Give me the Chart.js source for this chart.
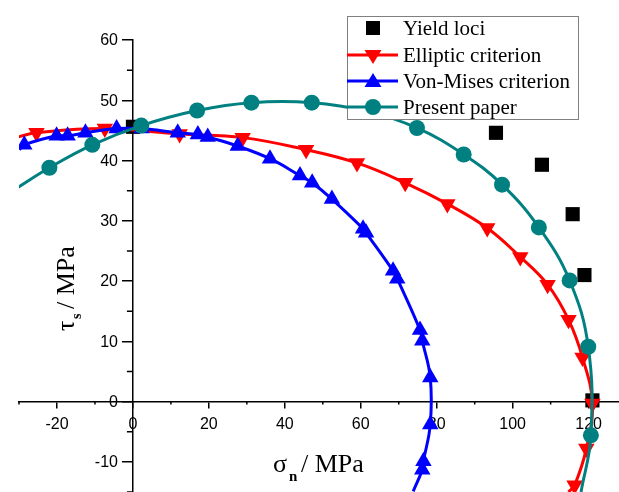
<!DOCTYPE html>
<html>
<head>
<meta charset="utf-8">
<script src="https://cdn.jsdelivr.net/npm/chart.js@4/dist/chart.umd.min.js"></script>
<style>
    html, body { margin: 0; padding: 0; background: #fff; }
    #wrap { width: 619px; height: 492px; position: relative; }
</style>
</head>
<body>
<div id="wrap"><canvas id="chart"></canvas></div>
<script>
// Yield loci (measured points)
const yieldX = [0, 95.6, 107.7, 115.8, 118.9, 121.0];
const yieldY = [45.6, 44.6, 39.3, 31.1, 21.0, 0.2];

// Elliptic criterion (first and last entries are where the curve leaves the frame)
const ellipticX = [-30.4, -25.4, -7.4, 12.3, 28.9, 45.6, 59.0, 71.7, 82.8, 93.3, 102.0, 109.2, 114.7, 118.4, 121.0, 119.4, 116.3, 114.7];
const ellipticY = [43.9, 44.6, 45.3, 44.4, 43.8, 41.8, 39.6, 36.3, 32.8, 28.8, 24.0, 19.4, 13.6, 7.3, -0.3, -7.8, -13.9, -15.0];

// Von-Mises criterion
const vonMisesX = [-29.9, -28.6, -20.1, -17.2, -12.5, -4.3, 2.3, 11.8, 17.1, 19.7, 27.6, 36.1, 44.0, 47.2, 52.4, 60.6, 61.4, 68.5, 69.6, 75.6, 76.2, 78.3, 78.3, 76.5, 76.2, 73.8];
const vonMisesY = [41.8, 42.6, 44.1, 44.1, 44.6, 45.3, 45.3, 44.6, 44.3, 43.9, 42.4, 40.3, 37.5, 36.3, 33.6, 28.7, 28.0, 21.7, 20.4, 11.9, 10.1, 4.0, -3.8, -9.9, -11.3, -14.9];

// Present paper
const presentX = [-30.4, -22.0, -10.7, 2.2, 16.9, 31.2, 47.1, 61.6, 74.8, 87.1, 97.2, 106.9, 115.0, 119.9, 120.6, 118.0];
const presentY = [35.5, 38.8, 42.6, 45.8, 48.3, 49.6, 49.6, 48.2, 45.4, 41.0, 36.0, 28.9, 20.1, 9.1, -5.6, -15.0];

// Axis ticks
const xTicks = [-20, 0, 20, 40, 60, 80, 100, 120];
const xMinor = [-30, -10, 10, 30, 50, 70, 90, 110];
const yTicks = [-10, 0, 10, 20, 30, 40, 50, 60];
const yMinor = [-15, -5, 5, 15, 25, 35, 45, 55];

const RED = '#ff0000';
const BLUE = '#0000ff';
const TEAL = '#008080';

function toPoints(xs, ys) {
    return xs.map((x, i) => ({ x: x, y: ys[i] }));
}

// markers only on measured points, not on the curve ends
function markerRadius(r) {
    return function(ctx) {
        const n = ctx.dataset.data.length;
        return (ctx.dataIndex === 0 || ctx.dataIndex === n - 1) ? 0 : r;
    };
}

const tickFont = { family: '"Liberation Sans", Arial, sans-serif', size: 16 };

// minor ticks and the y labels (Chart.js puts labels of a value-positioned y axis on the axis line)
const axisExtras = {
    id: 'axisExtras',
    beforeDatasetsDraw(chart) {
        const c = chart.ctx;
        const xs = chart.scales.x, ys = chart.scales.y;
        const y0 = ys.getPixelForValue(0);
        const x0 = xs.getPixelForValue(0);
        c.save();
        c.strokeStyle = '#000';
        c.lineWidth = 1.5;
        c.beginPath();
        xMinor.forEach(v => {
            const px = xs.getPixelForValue(v);
            c.moveTo(px, y0);
            c.lineTo(px, y0 + 3);
        });
        yMinor.forEach(v => {
            const py = ys.getPixelForValue(v);
            c.moveTo(x0, py);
            c.lineTo(x0 - 6, py);
        });
        c.stroke();
        c.fillStyle = '#000';
        c.font = tickFont.size + 'px ' + tickFont.family;
        c.textAlign = 'right';
        c.textBaseline = 'middle';
        yTicks.forEach(v => {
            c.fillText(String(v), x0 - 15, ys.getPixelForValue(v) + 1);
        });
        c.restore();
    }
};

const axisTitles = {
    id: 'axisTitles',
    afterDraw(chart) {
        const c = chart.ctx;
        c.save();
        c.fillStyle = '#000';
        c.textBaseline = 'alphabetic';
        c.textAlign = 'left';
        // x title
        c.font = '26px "Liberation Serif"';
        c.fillText('\u03c3', 273, 472);
        c.font = 'bold 15px "Liberation Serif"';
        c.fillText('n', 289, 481);
        c.font = '26px "Liberation Serif"';
        c.fillText('/ MPa', 301, 472);
        // y title
        c.translate(74, 331);
        c.rotate(-Math.PI / 2);
        c.font = '26px "Liberation Serif"';
        c.fillText('\u03c4', 0, 0);
        c.font = 'bold 14px "Liberation Serif"';
        c.fillText('s', 12, 7);
        c.font = '26px "Liberation Serif"';
        c.fillText('/ MPa', 22, 0);
        c.restore();
    }
};

const boxLegend = {
    id: 'boxLegend',
    afterDraw(chart) {
        const c = chart.ctx;
        c.save();
        c.fillStyle = '#fff';
        c.fillRect(347, 16, 231, 103);
        c.strokeStyle = '#808080';
        c.lineWidth = 1;
        c.strokeRect(347.5, 16.5, 231, 103);

        const sx = 373;
        // Yield loci
        c.fillStyle = '#000';
        c.fillRect(sx - 7, 28 - 7, 14, 14);
        // Elliptic
        c.strokeStyle = RED; c.fillStyle = RED; c.lineWidth = 3;
        c.beginPath(); c.moveTo(347, 55); c.lineTo(398, 55); c.stroke();
        c.beginPath(); c.moveTo(sx - 8.5, 50); c.lineTo(sx + 8.5, 50); c.lineTo(sx, 64); c.closePath(); c.fill();
        // Von-Mises
        c.strokeStyle = BLUE; c.fillStyle = BLUE;
        c.beginPath(); c.moveTo(347, 81); c.lineTo(398, 81); c.stroke();
        c.beginPath(); c.moveTo(sx - 8.5, 87); c.lineTo(sx + 8.5, 87); c.lineTo(sx, 73); c.closePath(); c.fill();
        // Present paper
        c.strokeStyle = TEAL; c.fillStyle = TEAL;
        c.beginPath(); c.moveTo(347, 107); c.lineTo(398, 107); c.stroke();
        c.beginPath(); c.arc(sx, 107, 8, 0, Math.PI * 2); c.fill();

        c.fillStyle = '#000';
        c.font = '21px "Liberation Serif"';
        c.textAlign = 'left';
        c.textBaseline = 'alphabetic';
        c.fillText('Yield loci', 403, 35);
        c.fillText('Elliptic criterion', 403, 62);
        c.fillText('Von-Mises criterion', 403, 88);
        c.fillText('Present paper', 403, 114);
        c.restore();
    }
};

new Chart(document.getElementById('chart'), {
    type: 'scatter',
    data: {
        datasets: [
            {
                label: 'Present paper',
                data: toPoints(presentX, presentY),
                showLine: true,
                tension: 0.4,
                borderColor: TEAL,
                backgroundColor: TEAL,
                borderWidth: 3,
                pointStyle: 'circle',
                pointRadius: markerRadius(8),
                pointBorderWidth: 0,
                order: 1
            },
            {
                label: 'Von-Mises criterion',
                data: toPoints(vonMisesX, vonMisesY),
                showLine: true,
                tension: 0.4,
                borderColor: BLUE,
                backgroundColor: BLUE,
                borderWidth: 3,
                pointStyle: 'triangle',
                pointRadius: markerRadius(9.5),
                pointBorderWidth: 0,
                order: 2
            },
            {
                label: 'Elliptic criterion',
                data: toPoints(ellipticX, ellipticY),
                showLine: true,
                tension: 0.4,
                borderColor: RED,
                backgroundColor: RED,
                borderWidth: 3,
                pointStyle: 'triangle',
                pointRotation: 180,
                pointRadius: markerRadius(9.5),
                pointBorderWidth: 0,
                order: 3
            },
            {
                label: 'Yield loci',
                data: toPoints(yieldX, yieldY),
                showLine: false,
                backgroundColor: '#000',
                borderColor: '#000',
                pointStyle: 'rect',
                pointRadius: 10,
                pointBorderWidth: 0,
                order: 4
            }
        ]
    },
    options: {
        responsive: true,
        maintainAspectRatio: false,
        animation: false,
        events: [],
        layout: { autoPadding: false, padding: { left: 19, top: 40, right: 0, bottom: 0 } },
        plugins: {
            legend: { display: false },
            tooltip: { enabled: false }
        },
        scales: {
            x: {
                type: 'linear',
                min: -30,
                max: 128,
                position: { y: 0 },
                afterBuildTicks: scale => { scale.ticks = xTicks.map(v => ({ value: v })); },
                grid: { drawOnChartArea: false, color: '#000', lineWidth: 1.5, tickLength: 6 },
                border: { display: true, color: '#000', width: 1.5 },
                ticks: { color: '#000', font: tickFont, padding: 7, maxRotation: 0, autoSkip: false }
            },
            y: {
                type: 'linear',
                min: -15,
                max: 60,
                position: { x: 0 },
                afterBuildTicks: scale => { scale.ticks = yTicks.map(v => ({ value: v })); },
                grid: { drawOnChartArea: false, color: '#000', lineWidth: 1.5, tickLength: 10 },
                border: { display: true, color: '#000', width: 1.5 },
                ticks: { display: false }
            }
        }
    },
    plugins: [axisExtras, axisTitles, boxLegend]
});
</script>
</body>
</html>
